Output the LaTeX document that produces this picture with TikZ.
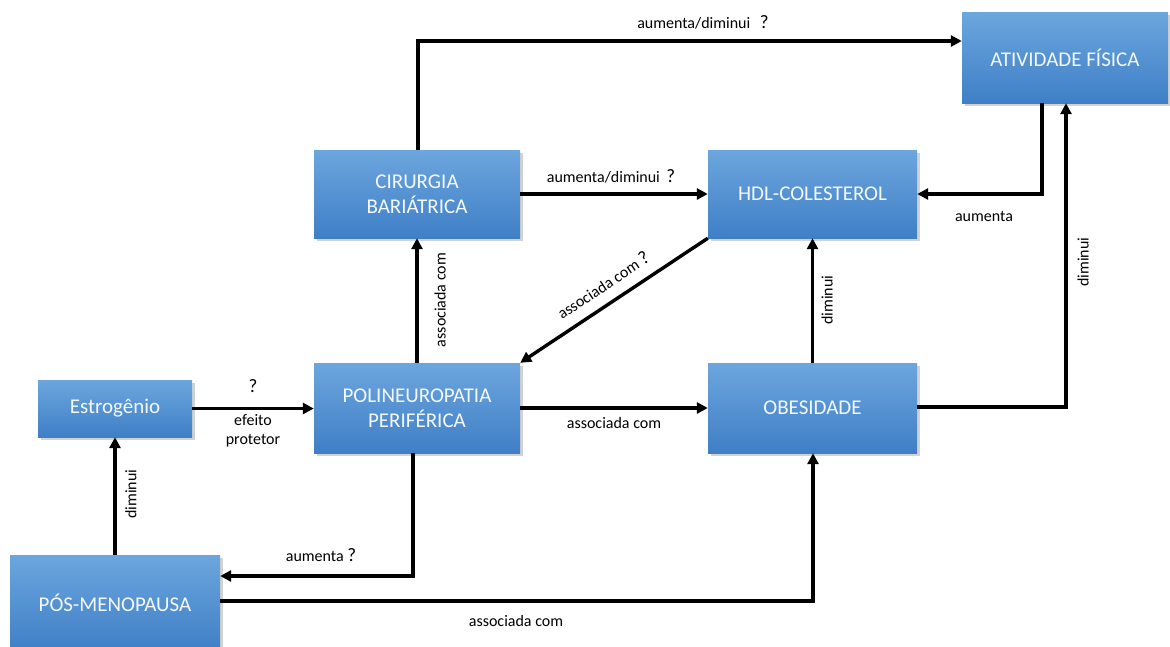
\documentclass[tikz,border=0pt]{standalone}
\usepackage{fontspec}
\setmainfont{Carlito}
\usetikzlibrary{arrows.meta,shadows}
\definecolor{boxtop}{HTML}{6CA6DE}
\definecolor{boxbot}{HTML}{3F7FC6}
\definecolor{boxtext}{HTML}{F4F8FC}
\newcommand{\qm}{{\fontsize{19}{19}\selectfont ?}}
\tikzset{
  box/.style={rectangle, top color=boxtop, bottom color=boxbot, draw=none,
    text=boxtext, font=\fontsize{21}{25}\selectfont, align=center, inner sep=0pt,
    drop shadow={shadow xshift=2.5pt, shadow yshift=-2.5pt, opacity=0.35}},
  conn/.style={line width=3.4pt, -{Triangle[length=11pt,width=11pt]}},
  lbl/.style={font=\fontsize{16}{19}\selectfont, text=black, inner sep=1pt, align=center},
}
\begin{document}
\begin{tikzpicture}[x=1pt,y=-1pt]
\useasboundingbox (0,0) rectangle (1170,646);
\fill[white] (0,0) rectangle (1170,646);
% nodes
\node[box, minimum width=206pt, minimum height=91pt] (ativ) at (1065,57.5) {ATIVIDADE FÍSICA};
\node[box, minimum width=206pt, minimum height=88pt] (cir) at (417,194) {CIRURGIA\\BARIÁTRICA};
\node[box, minimum width=209pt, minimum height=88pt] (hdl) at (812.5,194) {HDL-COLESTEROL};
\node[box, minimum width=154pt, minimum height=57pt] (est) at (115,408.5) {Estrogênio};
\node[box, minimum width=206pt, minimum height=90pt] (poli) at (417,408) {POLINEUROPATIA\\PERIFÉRICA};
\node[box, minimum width=209pt, minimum height=90pt] (obe) at (812.5,408) {OBESIDADE};
\node[box, minimum width=210pt, minimum height=96pt] (pos) at (115,603) {PÓS-MENOPAUSA};
% helper coordinates
\coordinate (c1) at (418,41);
\coordinate (c2) at (1042,194);
\coordinate (c3) at (1066,407);
\coordinate (c4) at (413,576);
\coordinate (c5) at (813,601);
% connectors
\draw[conn] (cir.north -| c1) -- (c1) -- (c1 -| ativ.west);
\node[lbl] (l1) at (703,22) {aumenta/diminui\hspace{0.6em}\qm};
\draw[conn] (cir.east) -- (hdl.west);
\node[lbl] (l2) at (611,176) {aumenta/diminui\hspace{0.4em}\qm};
\draw[conn] (ativ.south -| c2) -- (c2) -- (hdl.east |- c2);
\node[lbl] (l3) at (984,216) {aumenta};
\draw[conn] (obe.east |- c3) -- (c3) -- (ativ.south -| c3);
\node[lbl, rotate=90] (l4) at (1083,262) {diminui};
\draw[conn] (hdl.south west) -- (poli.north east);
\node[lbl, rotate=33.6] (l5) at (603,285) {associada com \qm};
\draw[conn] (poli.north) -- (cir.south);
\node[lbl, rotate=90] (l6) at (440,300) {associada com};
\draw[conn] (obe.north) -- (hdl.south);
\node[lbl, rotate=90] (l7) at (827,300) {diminui};
\draw[conn] (est.east) -- (poli.west |- est.east);
\node[lbl] (l8) at (253,386) {\qm};
\node[lbl] (l9) at (253,431) {efeito\\protetor};
\draw[conn] (poli.east) -- (obe.west);
\node[lbl] (l10) at (614,423) {associada com};
\draw[conn] (poli.south -| c4) -- (c4) -- (pos.east |- c4);
\node[lbl] (l11) at (321,555) {aumenta \qm};
\draw[conn] (pos.north) -- (est.south);
\node[lbl, rotate=90] (l12) at (131,494) {diminui};
\draw[conn] (pos.east |- c5) -- (c5) -- (obe.south -| c5);
\node[lbl] (l13) at (516,621) {associada com};
\end{tikzpicture}
\end{document}
